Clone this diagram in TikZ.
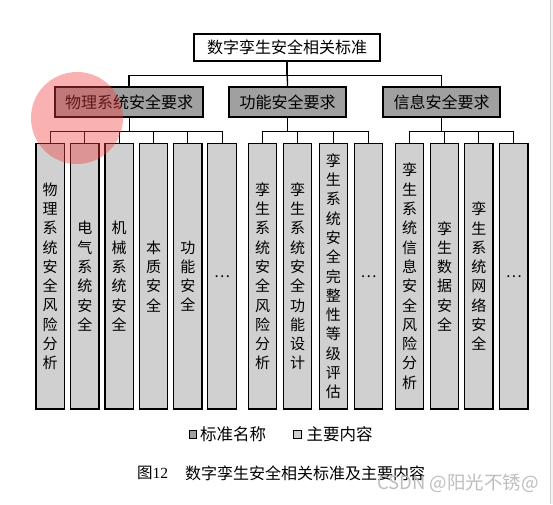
\documentclass[tikz,border=0pt]{standalone}
\usepackage{fontspec}
\newfontfamily\cjk{Noto Sans CJK SC}
\newfontfamily\latn{Liberation Serif}
\definecolor{grpgray}{RGB}{160,160,160}
\definecolor{leafgray}{RGB}{208,208,208}
\definecolor{hlpink}{RGB}{240,60,60}
\definecolor{wmgray}{RGB}{190,190,190}
\tikzset{
  topbox/.style={draw, line width=1.4pt, fill=white, minimum width=186pt, minimum height=27pt, inner sep=0pt, font=\cjk\fontsize{16}{16}\selectfont},
  grpbox/.style={draw, line width=1.4pt, fill=grpgray, minimum height=30pt, inner sep=0pt, font=\cjk\fontsize{16}{16}\selectfont},
  leaf/.style={draw, line width=1.1pt, fill=leafgray, minimum width=28.4pt, minimum height=265.5pt, inner sep=0pt, align=center, font=\cjk\fontsize{15}{19.3}\selectfont},
  busline/.style={line width=1.3pt},
  subline/.style={line width=1pt},
  legsq/.style={draw, line width=1pt, minimum size=7.5pt, inner sep=0pt},
  legtxt/.style={anchor=west, inner sep=0pt, font=\cjk\fontsize{16.5}{16.5}\selectfont},
}
\begin{document}
\begin{tikzpicture}[x=1pt,y=-1pt]
\useasboundingbox (0,0) rectangle (553,504);
\fill[white] (0,0) rectangle (553,504);
\fill[black!5] (551,0) rectangle (553,504);
\draw[black!18, line width=0.8pt] (550.8,0) -- (550.8,504);

% top and groups
\node[topbox] (top) at (287,47.5) {数字孪生安全相关标准};
\node[grpbox, minimum width=148pt] (g1) at (129,102) {物理系统安全要求};
\node[grpbox, minimum width=117pt] (g2) at (287.5,102) {功能安全要求};
\node[grpbox, minimum width=117pt] (g3) at (441.5,102) {信息安全要求};

% leaves
\node[leaf] (a1) at (50.2,276.25) {物\\理\\系\\统\\安\\全\\风\\险\\分\\析};
\node[leaf] (a2) at (84.8,276.25) {电\\气\\系\\统\\安\\全};
\node[leaf] (a3) at (119.2,276.25) {机\\械\\系\\统\\安\\全};
\node[leaf] (a4) at (153.5,276.25) {本\\质\\安\\全};
\node[leaf] (a5) at (187.8,276.25) {功\\能\\安\\全};
\node[leaf] (a6) at (222,276.25) {…};

\node[leaf] (b1) at (262.5,276.25) {孪\\生\\系\\统\\安\\全\\风\\险\\分\\析};
\node[leaf] (b2) at (297.7,276.25) {孪\\生\\系\\统\\安\\全\\功\\能\\设\\计};
\node[leaf] (b3) at (333.3,276.25) {孪\\生\\系\\统\\安\\全\\完\\整\\性\\等\\级\\评\\估};
\node[leaf] (b4) at (368.5,276.25) {…};

\node[leaf] (c1) at (409.5,276.25) {孪\\生\\系\\统\\信\\息\\安\\全\\风\\险\\分\\析};
\node[leaf] (c2) at (444.5,276.25) {孪\\生\\数\\据\\安\\全};
\node[leaf] (c3) at (478.8,276.25) {孪\\生\\系\\统\\网\\络\\安\\全};
\node[leaf] (c4) at (513.8,276.25) {…};

% connectors
\draw[busline] (top.south) -- (g2.north);
\draw[busline] (top.south) -- ++(0,13.5) -| (g1.north);
\draw[busline] (top.south) -- ++(0,13.5) -| (g3.north);
\foreach \c in {a1,a2,a3,a4,a5,a6}
  \draw[subline] (g1.south) -- ++(0,14) -| (\c.north);
\foreach \c in {b1,b2,b3,b4}
  \draw[subline] (g2.south) -- ++(0,14) -| (\c.north);
\foreach \c in {c1,c2,c3,c4}
  \draw[subline] (g3.south) -- ++(0,14) -| (\c.north);

% legend
\node[legsq, fill=grpgray] (lg1) at (193,434.5) {};
\node[legtxt] (lt1) at (200,434.5) {标准名称};
\node[legsq, fill=leafgray, line width=1.3pt] (lg2) at (297.5,434.5) {};
\node[legtxt] (lt2) at (306.5,434.5) {主要内容};

% caption
\node[anchor=west, inner sep=0pt] (cap1) at (137,473) {{\cjk\fontsize{15.5}{15.5}\selectfont 图}{\latn\fontsize{15.5}{15.5}\selectfont 12}};
\node[anchor=west, inner sep=0pt, font=\cjk\fontsize{16}{16}\selectfont] (cap2) at (185,473) {数字孪生安全相关标准及主要内容};

% watermark
\node[anchor=west, inner sep=0pt, text=wmgray, font=\cjk\fontsize{18.5}{18.5}\selectfont] (wm) at (377,483) {CSDN @阳光不锈@};

% highlight circle
\fill[hlpink, opacity=0.4] (77,118) circle (46);
\end{tikzpicture}
\end{document}
